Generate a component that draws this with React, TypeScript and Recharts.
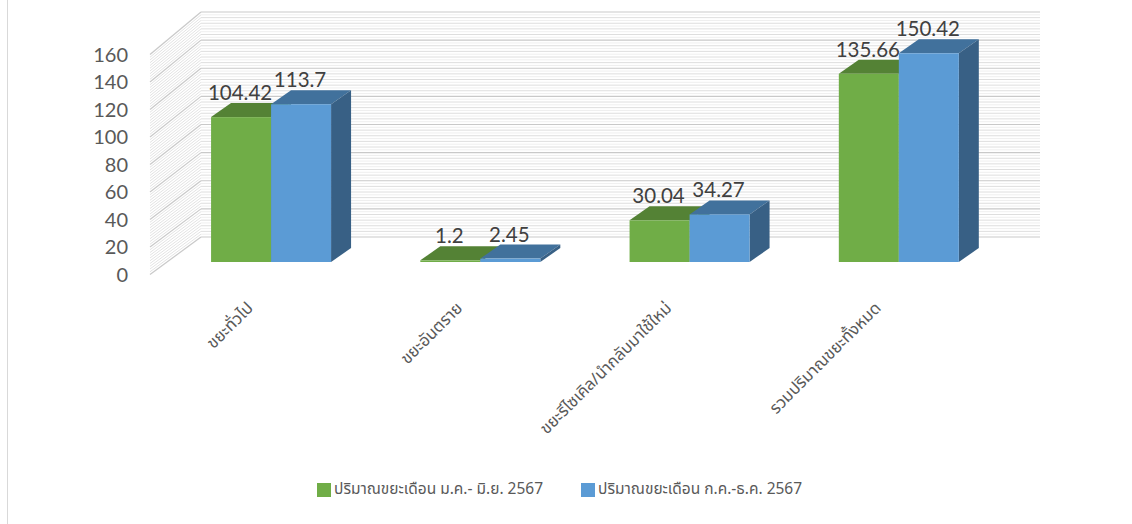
import React from 'react';
import { BarChart, Bar, XAxis, YAxis, Legend, LabelList, CartesianGrid } from 'recharts';

const categories = ['ขยะทั่วไป', 'ขยะอันตราย', 'ขยะรีไซเคิล/นำกลับมาใช้ใหม่', 'รวมปริมาณขยะทั้งหมด'];
const seriesJanJun = [104.42, 1.2, 30.04, 135.66];
const seriesJulDec = [113.7, 2.45, 34.27, 150.42];
const seriesNames = ['ปริมาณขยะเดือน ม.ค.- มิ.ย. 2567', 'ปริมาณขยะเดือน ก.ค.-ธ.ค. 2567'];
const yTicks = [0, 20, 40, 60, 80, 100, 120, 140, 160];

const data = categories.map((name, i) => ({ name, a: seriesJanJun[i], b: seriesJulDec[i] }));

const W = 1132;
const H = 524;
const PLOT_TOP = 40;
const PLOT_BOTTOM = 262;
const TICK_STEP_PX = (PLOT_BOTTOM - PLOT_TOP) / (yTicks.length - 1);
const MINOR_PER_MAJOR = 10;
const DX = 20;
const DY = 14;
const WALL_FRONT_X = 150;
const WALL_BACK_X = 201;
const WALL_RIGHT_X = 1040;
const frontY = (y: number) => 274.5 + (y - PLOT_BOTTOM) * 0.991;
const backY = (y: number) => 237 + (y - PLOT_BOTTOM) * 1.0135;

const GREEN = '#70AD47';
const GREEN_TOP = '#548235';
const GREEN_SIDE = '#4B7530';
const BLUE = '#5B9BD5';
const BLUE_TOP = '#41719C';
const BLUE_SIDE = '#386085';
const seriesColors = [GREEN, BLUE];

const THAI_FONT = "'Noto Sans Thai', 'Tahoma', 'DejaVu Sans', 'Noto Sans', sans-serif";
const NUM_FONT = "Lato, 'Open Sans', sans-serif";

const makeBox = (topColor: string, sideColor: string) => (props: any) => {
  const { x, y, width, height, fill } = props;
  if (!width || width <= 0) return <g />;
  return (
    <g>
      <polygon
        points={`${x},${y} ${x + width},${y} ${x + width + DX},${y - DY} ${x + DX},${y - DY}`}
        fill={topColor}
      />
      <polygon
        points={`${x + width},${y} ${x + width + DX},${y - DY} ${x + width + DX},${y + height - DY} ${x + width},${y + height}`}
        fill={sideColor}
      />
      <rect x={x} y={y} width={width} height={height} fill={fill} />
    </g>
  );
};

// Wall grid: drawn from CartesianGrid horizontal lines (below the bars)
const WallLine = (props: any) => {
  const { y1 } = props;
  const y = y1;
  const fy = frontY(y);
  const by = backY(y);
  const isTop = Math.abs(y - PLOT_TOP) < 0.5;
  const minors: any[] = [];
  if (!isTop) {
    for (let k = 1; k < MINOR_PER_MAJOR; k++) {
      const my = y - (k * TICK_STEP_PX) / MINOR_PER_MAJOR;
      const mf = frontY(my);
      const mb = backY(my);
      minors.push(
        <g key={k}>
          <line x1={WALL_FRONT_X} y1={mf} x2={WALL_BACK_X} y2={mb} stroke="#e3e3e3" strokeWidth={1} />
          <line
            x1={WALL_BACK_X}
            y1={mb}
            x2={WALL_RIGHT_X}
            y2={mb}
            stroke={k % 2 === 0 ? '#dedede' : '#efefef'}
            strokeWidth={1}
          />
        </g>
      );
    }
  }
  return (
    <g>
      {minors}
      <line x1={WALL_FRONT_X} y1={fy} x2={WALL_BACK_X} y2={by} stroke="#c9c9c9" strokeWidth={1.2} />
      <line x1={WALL_BACK_X} y1={by} x2={WALL_RIGHT_X} y2={by} stroke="#c9c9c9" strokeWidth={1.2} />
    </g>
  );
};

const YTick = (props: any) => {
  const { y, payload } = props;
  return (
    <text
      x={128}
      y={frontY(y)}
      dy="0.36em"
      textAnchor="end"
      fill="#595959"
      fontSize={20}
      fontFamily={NUM_FONT}
    >
      {payload.value}
    </text>
  );
};

const CategoryTick = (props: any) => {
  const { x, payload } = props;
  const ax = x - 17;
  const ay = PLOT_BOTTOM + 47;
  return (
    <text
      x={ax}
      y={ay}
      textAnchor="end"
      transform={`rotate(-45, ${ax}, ${ay})`}
      fill="#595959"
      fontSize={16.5}
      fontFamily={THAI_FONT}
    >
      {payload.value}
    </text>
  );
};

const ValueLabel = (props: any) => {
  const { x, y, width, value } = props;
  return (
    <text
      x={x + width / 2 - 1}
      y={y - DY - 3}
      textAnchor="middle"
      fill="#404040"
      fontSize={20.5}
      fontFamily={NUM_FONT}
    >
      {value}
    </text>
  );
};

const LegendContent = () => {
  return (
    <div style={{ display: 'flex', alignItems: 'center', fontFamily: THAI_FONT, fontSize: 15.5, color: '#595959', lineHeight: '16px' }}>
      {seriesNames.map((name, i) => (
        <div key={i} style={{ display: 'flex', alignItems: 'center', marginRight: 38 }}>
          <div style={{ width: 14, height: 14, background: seriesColors[i], marginRight: 3 }} />
          <span>{name}</span>
        </div>
      ))}
    </div>
  );
};

export default function App() {
  return (
    <div style={{ position: 'absolute', left: 0, top: 0, width: W, height: H, background: '#fff' }}>
      <div style={{ position: 'absolute', left: 7, top: 0, width: 1, height: H, background: '#d9d9d9' }} />
      <BarChart
        width={W}
        height={H}
        data={data}
        margin={{ top: PLOT_TOP, right: 128.5, bottom: PLOT_BOTTOM - 1, left: 165.5 }}
        barCategoryGap="21.3%"
        barGap={0}
      >
        <CartesianGrid vertical={false} horizontal={<WallLine />} />
        <YAxis
          domain={[0, 160]}
          ticks={yTicks}
          interval={0}
          width={1}
          axisLine={false}
          tickLine={false}
          tick={<YTick />}
        />
        <XAxis
          dataKey="name"
          height={1}
          interval={0}
          axisLine={false}
          tickLine={false}
          tickSize={0}
          tickMargin={0}
          tick={<CategoryTick />}
        />
        <Bar dataKey="a" name={seriesNames[0]} fill={GREEN} isAnimationActive={false} shape={makeBox(GREEN_TOP, GREEN_SIDE)}>
          <LabelList dataKey="a" content={<ValueLabel />} />
        </Bar>
        <Bar dataKey="b" name={seriesNames[1]} fill={BLUE} isAnimationActive={false} shape={makeBox(BLUE_TOP, BLUE_SIDE)}>
          <LabelList dataKey="b" content={<ValueLabel />} />
        </Bar>
        <Legend
          layout="horizontal"
          verticalAlign="middle"
          align="center"
          wrapperStyle={{ top: 482, left: 317, width: 700 }}
          content={<LegendContent />}
        />
      </BarChart>
    </div>
  );
}
